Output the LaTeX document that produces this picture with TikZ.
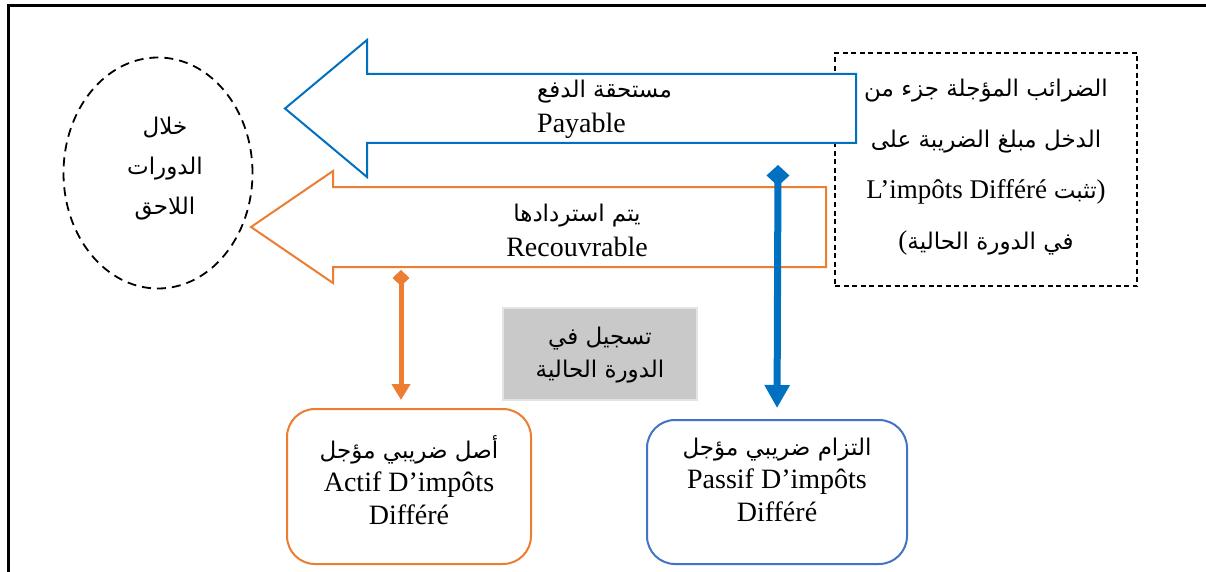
\documentclass[tikz,border=0pt]{standalone}
\usepackage{fontspec}
\setmainfont{Liberation Serif}
\newfontfamily\arabicfont[Script=Arabic]{DejaVu Sans}
\TeXXeTstate=1
\usetikzlibrary{arrows.meta,shapes.geometric}
\definecolor{bluearr}{RGB}{0,112,192}
\definecolor{orangearr}{RGB}{237,125,49}
\definecolor{bluebox}{RGB}{68,114,196}
\newcommand{\arx}[1]{{\arabicfont\fontsize{23}{33}\selectfont\beginR #1\endR}}
\tikzset{
  latin/.style={font=\fontsize{28}{33}\selectfont, inner sep=0pt},
  arrowshape/.style={line width=2pt, fill=white, line join=miter},
  roundbox/.style={line width=2pt, rounded corners=28pt, fill=white},
  textblock/.style={font=\fontsize{28}{33}\selectfont, align=center, inner sep=0pt},
}
\begin{document}
\begin{tikzpicture}[x=1pt,y=-1pt]
\useasboundingbox (0,0) rectangle (1206,572);
% frame
\draw[line width=3pt] (1206,6) -- (8,6) -- (8,572);

% ellipse (later periods)
\node[ellipse, draw, dash pattern=on 9pt off 6pt, line width=1.8pt,
      minimum width=189pt, minimum height=231pt, inner sep=0pt] (later) at (158,173) {};
\node[textblock, font=\fontsize{28}{40}\selectfont] (latertext) at (165,169)
  {\arx{خلال}\\\arx{الدورات}\\\arx{اللاحق}};

% dashed box
\node[draw, dash pattern=on 5pt off 3.5pt, line width=1.3pt,
      minimum width=302pt, minimum height=233pt, inner sep=0pt] (dbox) at (986,169.5) {};
\node[textblock, font=\fontsize{27}{51}\selectfont] (dtext) at (986,167)
  {\arx{الضرائب المؤجلة جزء من}\\
   \arx{الدخل مبلغ الضريبة على}\\
   L’impôts Différé \arx{تثبت})\\
   (\arx{في الدورة الحالية}};

% blue arrow (payable)
\draw[bluearr, arrowshape] (856,74) -- (367,74) -- (367,40) -- (285,108.5)
   -- (367,177) -- (367,143) -- (856,143) -- cycle;
\node[textblock, anchor=west] (payA) at (537,92) {\arx{مستحقة الدفع}};
\node[latin, anchor=west] (payB) at (537,126) {Payable};

% orange arrow (recoverable)
\draw[orangearr, arrowshape] (826,187) -- (333,187) -- (333,171) -- (251,227)
   -- (333,283) -- (333,267) -- (826,267) -- cycle;
\node[textblock, font=\fontsize{28}{35}\selectfont] (recA) at (577,230) {\arx{يتم استردادها}\\Recouvrable};

% gray box
\node[fill=gray!42, draw=gray!22, line width=2pt, minimum width=194pt,
      minimum height=92pt, inner sep=0pt] (gbox) at (600,354) {};
\node[textblock] (gtext) at (600,355) {\arx{تسجيل في}\\\arx{الدورة الحالية}};

% bottom boxes
\node[draw=orangearr, roundbox, minimum width=244pt, minimum height=155pt, inner sep=0pt]
  (abox) at (409,486.5) {};
\node[textblock] (atext) at (409,480) {\arx{أصل ضريبي مؤجل}\\Actif D’impôts\\Différé};
\node[draw=bluebox, roundbox, minimum width=260pt, minimum height=144pt, inner sep=0pt]
  (pbox) at (777,492) {};
\node[textblock] (ptext) at (777,480) {\arx{التزام ضريبي مؤجل}\\Passif D’impôts\\Différé};

% connectors
\coordinate (ostart) at (401,270);
\coordinate (oend) at (401,400);
\draw[orangearr, line width=5pt,
      {Diamond[length=16pt,width=17pt]}-{Triangle[length=16pt,width=18pt]}] (ostart) -- (oend);
\coordinate (bstart) at (778,165);
\draw[bluearr, line width=7pt, shorten >=11pt,
      {Diamond[length=21pt,width=23pt]}-{Triangle[length=23pt,width=24pt]}] (bstart) -- (pbox.north);
\end{tikzpicture}
\end{document}
